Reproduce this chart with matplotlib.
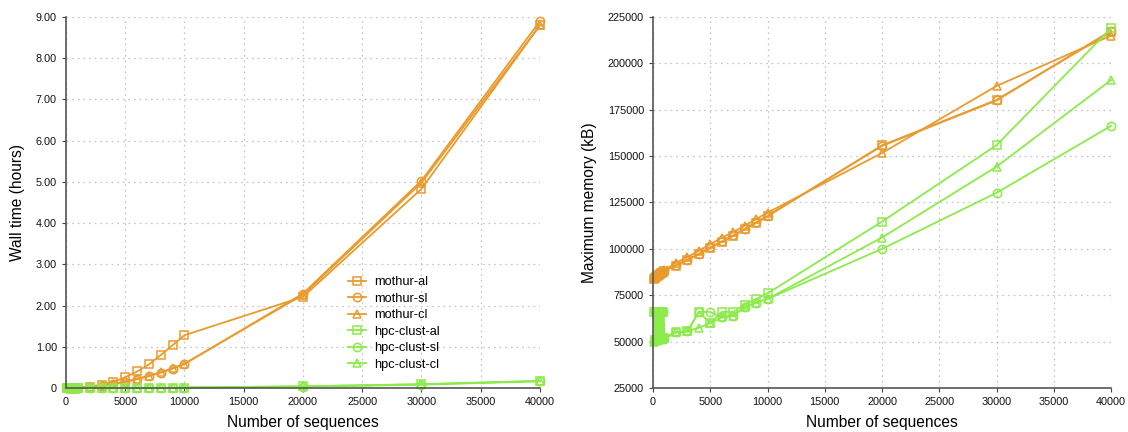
import matplotlib
matplotlib.use("Agg")
import matplotlib.pyplot as plt
from matplotlib.ticker import FixedLocator, FuncFormatter

plt.rcParams['font.family'] = ['Liberation Sans', 'DejaVu Sans']

# Number of sequences in each benchmark run
n_seqs = [100, 200, 300, 400, 500, 600, 700, 800, 900, 1000,
          2000, 3000, 4000, 5000, 6000, 7000, 8000, 9000, 10000,
          20000, 30000, 40000]

# Wall time (hours)
time_mothur_al = [0.0, 0.0, 0.0, 0.0, 0.0, 0.0, 0.0, 0.0, 0.0, 0.01,
                  0.03, 0.08, 0.15, 0.26, 0.40, 0.57, 0.80, 1.04, 1.28,
                  2.21, 4.83, 8.80]
time_mothur_sl = [0.0, 0.0, 0.0, 0.0, 0.0, 0.0, 0.0, 0.0, 0.0, 0.0,
                  0.02, 0.05, 0.09, 0.15, 0.21, 0.29, 0.37, 0.47, 0.58,
                  2.29, 5.03, 8.90]
time_mothur_cl = [0.0, 0.0, 0.0, 0.0, 0.0, 0.0, 0.0, 0.0, 0.0, 0.0,
                  0.02, 0.05, 0.10, 0.16, 0.22, 0.30, 0.38, 0.48, 0.59,
                  2.26, 4.98, 8.80]
time_hpc_al = [0.0, 0.0, 0.0, 0.0, 0.0, 0.0, 0.0, 0.0, 0.0, 0.0,
               0.0, 0.0, 0.0, 0.0, 0.0, 0.0, 0.0, 0.0, 0.01,
               0.04, 0.09, 0.17]
time_hpc_sl = [0.0, 0.0, 0.0, 0.0, 0.0, 0.0, 0.0, 0.0, 0.0, 0.0,
               0.0, 0.0, 0.0, 0.0, 0.0, 0.0, 0.0, 0.0, 0.01,
               0.03, 0.08, 0.16]
time_hpc_cl = [0.0, 0.0, 0.0, 0.0, 0.0, 0.0, 0.0, 0.0, 0.0, 0.0,
               0.0, 0.0, 0.0, 0.0, 0.0, 0.0, 0.0, 0.0, 0.01,
               0.04, 0.09, 0.17]

# Maximum memory (kB)
mem_mothur_al = [84000, 84500, 85000, 85500, 86000, 86400, 86800, 87200, 87600, 88000,
                 91000, 94000, 97000, 100500, 103800, 107000, 110500, 114000, 117500,
                 155800, 180300, 217000]
mem_mothur_sl = [84200, 84700, 85200, 85700, 86200, 86600, 87000, 87400, 87800, 88200,
                 91200, 94200, 97300, 100800, 104000, 107300, 110800, 114300, 117800,
                 155500, 180000, 217600]
mem_mothur_cl = [84500, 85000, 85500, 86000, 86400, 86800, 87200, 87600, 88000, 88500,
                 92500, 95500, 99000, 102500, 106000, 109000, 112500, 116000, 119500,
                 151700, 187800, 215000]
mem_hpc_al = [66000, 51000, 66000, 51500, 66000, 51500, 66000, 52000, 66000, 52000,
              55000, 55500, 66000, 60000, 66000, 66000, 70000, 73000, 76000,
              114700, 155900, 219000]
mem_hpc_sl = [50500, 66000, 50800, 66000, 51000, 66000, 51200, 66000, 66000, 51500,
              55000, 55500, 66000, 66000, 63000, 64000, 68500, 71000, 73000,
              100000, 130200, 166300]
mem_hpc_cl = [50000, 50300, 50600, 50900, 51200, 51400, 51600, 51800, 52000, 52200,
              55000, 55500, 57500, 60000, 63000, 64000, 68500, 71000, 73000,
              106100, 144300, 191000]

series_labels = ['mothur-al', 'mothur-sl', 'mothur-cl',
                 'hpc-clust-al', 'hpc-clust-sl', 'hpc-clust-cl']

orange = '#E99B2E'
green = '#8BEB4A'
colors = [orange, orange, orange, green, green, green]
markers = ['s', 'o', '^', 's', 'o', '^']

fig = plt.figure(figsize=(11.28, 4.32), dpi=100)
ax1 = fig.add_axes([0.0585, 0.1019, 0.4202, 0.8588])
ax2 = fig.add_axes([0.5789, 0.1019, 0.4061, 0.8588])


def style_axes(ax):
    for side in ('top', 'right'):
        ax.spines[side].set_visible(False)
    for side in ('left', 'bottom'):
        ax.spines[side].set_color('#555555')
        ax.spines[side].set_linewidth(1.2)
    ax.grid(True, linestyle=(0, (1.5, 3)), color='#c8c8c8', linewidth=0.9)
    ax.set_axisbelow(True)
    ax.tick_params(axis='both', direction='out', length=3, width=0.8,
                   color='#444444', labelsize=7.8, labelcolor='#111111')
    ax.set_xlim(0, 40000)
    ax.xaxis.set_major_locator(FixedLocator(range(0, 40001, 5000)))


def draw(ax, series):
    for vals, lab, c, m in zip(series, series_labels, colors, markers):
        ax.plot(n_seqs, vals, color=c, marker=m, markersize=6,
                markerfacecolor='none', markeredgecolor=c, markeredgewidth=1.1,
                linewidth=1.3, label=lab, clip_on=False)


draw(ax1, [time_mothur_al, time_mothur_sl, time_mothur_cl,
           time_hpc_al, time_hpc_sl, time_hpc_cl])
style_axes(ax1)
ax1.set_ylim(0, 9)
ax1.yaxis.set_major_locator(FixedLocator([0, 1, 2, 3, 4, 5, 6, 7, 8, 9]))
ax1.yaxis.set_major_formatter(FuncFormatter(lambda v, p: '0' if v == 0 else f'{v:.2f}'))
ax1.set_xlabel('Number of sequences', fontsize=11.2, labelpad=6)
ax1.set_ylabel('Wall time (hours)', fontsize=11.2, labelpad=8)
ax1.legend(loc='upper left', bbox_to_anchor=(0.585, 0.315), frameon=False,
           fontsize=9.2, handlelength=1.4, handletextpad=0.6,
           labelspacing=0.35, borderaxespad=0)

draw(ax2, [mem_mothur_al, mem_mothur_sl, mem_mothur_cl,
           mem_hpc_al, mem_hpc_sl, mem_hpc_cl])
style_axes(ax2)
ax2.set_ylim(25000, 225000)
ax2.yaxis.set_major_locator(FixedLocator(range(25000, 225001, 25000)))
ax2.yaxis.set_major_formatter(FuncFormatter(lambda v, p: f'{int(v)}'))
ax2.set_xlabel('Number of sequences', fontsize=11.2, labelpad=6)
ax2.set_ylabel('Maximum memory (kB)', fontsize=11.2, labelpad=8)

fig.savefig('out.png', dpi=100)
